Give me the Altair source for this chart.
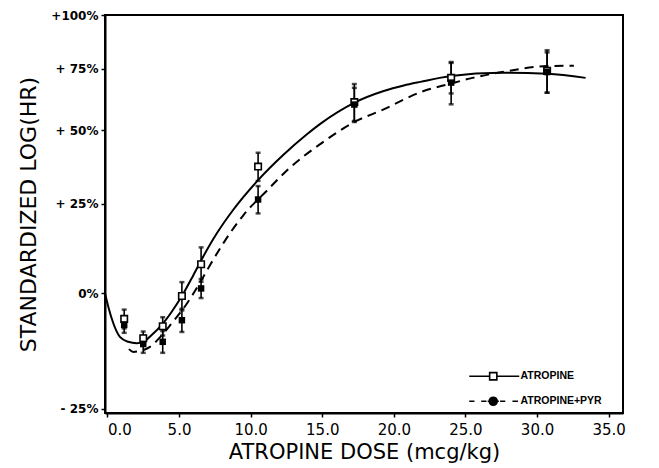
import altair as alt
import pandas as pd

# ---------------- values ----------------
series_names = ["ATROPINE", "ATROPINE+PYR"]

# measured points (dose in mcg/kg, standardized log(HR) in %)
dose = [1.17, 2.50, 3.86, 5.20, 6.54, 10.52, 17.24, 24.0, 30.7]
atr_mean = [-6.2, -10.6, -7.9, -0.7, 7.5, 37.1, 61.0, 71.0, 74.0]
atr_err = [2.2, 1.5, 2.1, 3.5, 4.6, 4.8, 7.4, 6.5, 9.2]
pyr_mean = [-7.6, -11.9, -11.4, -6.5, 1.2, 26.3, 60.0, 69.0, 73.5]
pyr_err = [1.8, 1.9, 2.4, 2.7, 2.4, 4.3, 6.8, 8.9, 8.7]

# fitted curves
atr_curve_x = [-0.17, 0.06, 0.41, 0.87, 1.45, 2.04, 2.50, 3.09, 3.79, 4.49,
               5.20, 6.00, 6.54, 7.64, 8.80, 10.55, 12.29, 13.93, 14.86,
               17.26, 19.29, 20.69, 21.85, 23.99, 27.45, 30.71, 33.39]
atr_curve_y = [0.0, -3.3, -7.2, -10.3, -11.4, -11.7, -11.4, -9.9, -7.6, -4.5,
               -0.7, 4.6, 8.5, 16.1, 23.2, 32.7, 41.2, 48.6, 52.5,
               60.8, 65.5, 67.8, 69.3, 71.8, 73.2, 72.8, 71.0]
pyr_curve_x = [1.50, 1.80, 2.27, 2.97, 3.70, 4.49, 5.54, 5.98, 6.59, 7.17,
               8.10, 9.50, 11.13, 12.76, 14.86, 17.31, 19.29, 20.69, 21.85,
               23.99, 25.50, 27.45, 30.71, 32.57]
pyr_curve_y = [-13.0, -13.6, -13.4, -12.5, -10.3, -7.2, -2.6, -0.2, 3.5, 7.3,
               13.3, 21.5, 29.1, 36.8, 45.0, 53.4, 58.1, 62.0, 65.0,
               68.6, 71.0, 73.4, 76.1, 76.3]

x_ticks = [0, 5, 10, 15, 20, 25, 30, 35]
y_ticks = [0.75, 1.0, 1.25, 1.5, 1.75, 2.0]   # 1 + fraction, log scale

# ---------------- tables ----------------
n = len(dose)
pts = pd.DataFrame({
    "dose": dose + dose,
    "pct": atr_mean + pyr_mean,
    "err": atr_err + pyr_err,
    "series": [series_names[0]] * n + [series_names[1]] * n,
})
curves = pd.DataFrame({
    "dose": atr_curve_x + pyr_curve_x,
    "pct": atr_curve_y + pyr_curve_y,
    "series": [series_names[0]] * len(atr_curve_x) + [series_names[1]] * len(pyr_curve_x),
})

xscale = alt.Scale(domain=[-0.17, 36.0], nice=False, zero=False)
yscale = alt.Scale(type="log", domain=[0.742, 2.0], nice=False)

xaxis = alt.Axis(
    values=x_ticks, format=".1f", title="ATROPINE DOSE (mcg/kg)",
    labelFont="DejaVu Sans", labelFontSize=15, labelPadding=5,
    labelAlign={"condition": {"test": "datum.value == 0", "value": "left"}, "value": "center"},
    titleFont="DejaVu Sans", titleFontSize=21, titleFontWeight="normal", titlePadding=4,
)
yaxis = alt.Axis(
    values=y_ticks, title="STANDARDIZED LOG(HR)",
    labelExpr="datum.value >= 1.99 ? '+100%' : (abs(datum.value - 1) < 0.001 ? '0%' : (datum.value < 1 ? '- 25%' : '+  ' + format((datum.value - 1) * 100, 'd') + '%'))",
    labelFont="DejaVu Sans", labelFontSize=12, labelFontWeight="bold", labelPadding=3,
    titleFont="DejaVu Sans", titleFontSize=22, titleFontWeight="normal", titlePadding=10,
)

X = alt.X("dose:Q", scale=xscale, axis=xaxis)
Y = alt.Y("ratio:Q", scale=yscale, axis=yaxis)


def base(df):
    return alt.Chart(df).transform_calculate(ratio="1 + datum.pct / 100")


solid = base(curves).transform_filter(alt.datum.series == series_names[0]).mark_line(
    interpolate="monotone", color="black", strokeWidth=2
).encode(x=X, y=Y)

dashed = base(curves).transform_filter(alt.datum.series == series_names[1]).mark_line(
    interpolate="monotone", color="black", strokeWidth=2, strokeDash=[9, 6]
).encode(x=X, y=Y)

errs = base(pts).transform_calculate(
    lo="1 + (datum.pct - datum.err) / 100", hi="1 + (datum.pct + datum.err) / 100"
)
bars = errs.mark_rule(color="black", strokeWidth=1.6).encode(
    x=X, y=alt.Y("lo:Q", scale=yscale, axis=yaxis), y2="hi:Q"
)
cap_lo = errs.mark_tick(color="black", orient="horizontal", size=5, thickness=2.5).encode(
    x=X, y=alt.Y("lo:Q", scale=yscale, axis=yaxis)
)
cap_hi = errs.mark_tick(color="black", orient="horizontal", size=5, thickness=2.5).encode(
    x=X, y=alt.Y("hi:Q", scale=yscale, axis=yaxis)
)

open_sq = base(pts).transform_filter(alt.datum.series == series_names[0]).mark_square(
    size=42, fill="white", stroke="black", strokeWidth=1.6, opacity=1
).encode(x=X, y=Y)
filled_sq = base(pts).transform_filter(alt.datum.series == series_names[1]).mark_square(
    size=42, color="black", opacity=1
).encode(x=X, y=Y)

# legend symbols (line sample + marker), unit = 4 px at symbol size 64
path_atr = "M-1,0H4.1M5.9,0H11.5M4.1,-0.9H5.9V0.9H4.1Z"
path_pyr = ("M-1,0H0.3M2,0H3.3M3.6,0H6.4M6.7,0H8M9.8,0H11.2"
            "M4,0A1,1,0,1,1,6,0A1,1,0,1,1,4,0Z")


def make_legend():
    return alt.Legend(title=None, orient="none", legendX=363, legendY=356,
                      symbolSize=64, symbolStrokeWidth=1.6, symbolStrokeColor="black",
                      symbolOpacity=1, labelOffset=42, rowPadding=10, padding=0,
                      labelFont="Liberation Sans", labelFontSize=10.5,
                      labelFontWeight="bold", labelColor="black")


legend_layer = base(pts).transform_filter("false").mark_point(
    filled=True, strokeWidth=1.6, opacity=1
).encode(
    x=X, y=Y,
    shape=alt.Shape("series:N", scale=alt.Scale(domain=series_names, range=[path_atr, path_pyr]),
                    legend=make_legend()),
    fill=alt.Fill("series:N", scale=alt.Scale(domain=series_names, range=["white", "black"]),
                  legend=make_legend()),
    stroke=alt.Stroke("series:N", scale=alt.Scale(domain=series_names, range=["black", "black"]),
                      legend=make_legend()),
)

chart = alt.layer(
    solid, dashed, bars, cap_lo, cap_hi, open_sq, filled_sq, legend_layer
).properties(
    width=518, height=398,
    autosize=alt.AutoSizeParams(type="none"),
    padding={"left": 97, "top": 7, "right": 20, "bottom": 55},
    background="white",
).configure_view(
    stroke="black", strokeWidth=2
).configure_axis(
    grid=False, domainColor="black", domainWidth=2, tickColor="black",
    tickWidth=1.5, tickSize=4, labelColor="black", titleColor="black",
)

chart.save("out.html", embed_options={"renderer": "svg", "actions": False})
